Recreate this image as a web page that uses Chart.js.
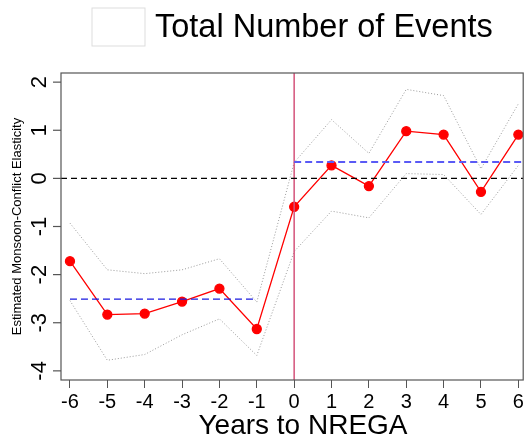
<!DOCTYPE html>
<html><head><meta charset="utf-8">
<script src="https://cdn.jsdelivr.net/npm/chart.js"></script>
<style>html,body{margin:0;background:#fff}#wrap{width:529px;height:443px}</style>
</head><body><div id="wrap"><canvas id="c"></canvas></div>
<script>
const years = [-6, -5, -4, -3, -2, -1, 0, 1, 2, 3, 4, 5, 6];
const estimate = [-1.72, -2.83, -2.81, -2.56, -2.29, -3.13, -0.59, 0.27, -0.16, 0.98, 0.91, -0.28, 0.91];
const upper = [-0.93, -1.9, -1.98, -1.9, -1.67, -2.57, 0.33, 1.22, 0.52, 1.85, 1.72, 0.2, 1.55];
const lower = [-2.54, -3.78, -3.66, -3.25, -2.92, -3.68, -1.52, -0.68, -0.82, 0.1, 0.08, -0.75, 0.27];
const preMean = -2.51, postMean = 0.34;
const yTicks = [2, 1, 0, -1, -2, -3, -4];
const X_MIN = -6.24, X_MAX = 6.13, Y_MIN = -4.19, Y_MAX = 2.19;

const pts = arr => years.map((x, i) => ({ x, y: arr[i] }));
const FONT = 'Liberation Sans, Arial, sans-serif';

const decor = {
  id: 'decor',
  afterDraw(chart) {
    const { ctx, chartArea: a, scales: { y } } = chart;
    ctx.save();
    ctx.strokeStyle = '#555'; ctx.lineWidth = 1.2;
    ctx.strokeRect(a.left, a.top, a.right - a.left, a.bottom - a.top);
    // y ticks, rotated labels
    ctx.fillStyle = '#000'; ctx.font = '22px ' + FONT;
    ctx.textAlign = 'center'; ctx.textBaseline = 'middle';
    yTicks.forEach(v => {
      const py = y.getPixelForValue(v);
      ctx.beginPath(); ctx.moveTo(a.left - 8, py); ctx.lineTo(a.left, py); ctx.stroke();
      ctx.save(); ctx.translate(40, py); ctx.rotate(-Math.PI / 2);
      ctx.fillText(String(v), 0, 0); ctx.restore();
    });
    ctx.save(); ctx.translate(17, (a.top + a.bottom) / 2); ctx.rotate(-Math.PI / 2);
    ctx.font = '13px ' + FONT; ctx.fillText('Estimated Monsoon-Conflict Elasticity', 0, 0); ctx.restore();
    // x title
    ctx.font = '28px ' + FONT;
    ctx.fillText('Years to NREGA', 303, 426);
    // legend
    ctx.strokeStyle = '#ddd'; ctx.lineWidth = 1;
    ctx.strokeRect(92, 8, 53, 38);
    ctx.font = '32.5px ' + FONT; ctx.textAlign = 'left';
    ctx.fillText('Total Number of Events', 155, 28);
    ctx.restore();
  }
};

new Chart(document.getElementById('c'), {
  type: 'scatter',
  data: {
    datasets: [
      { data: [{ x: X_MIN, y: 0 }, { x: X_MAX, y: 0 }], showLine: true, borderColor: '#000', borderWidth: 1.2, borderDash: [6, 4], pointRadius: 0 },
      { data: [{ x: -6, y: preMean }, { x: -1, y: preMean }], showLine: true, borderColor: '#1a1ae0', borderWidth: 1.3, borderDash: [7, 4], pointRadius: 0 },
      { data: [{ x: 0, y: postMean }, { x: X_MAX, y: postMean }], showLine: true, borderColor: '#5a5af5', borderWidth: 2, borderDash: [7, 4], pointRadius: 0 },
      { data: [{ x: 0, y: Y_MIN }, { x: 0, y: Y_MAX }], showLine: true, borderColor: '#d4537a', borderWidth: 1.5, pointRadius: 0 },
      { data: pts(upper), showLine: true, borderColor: '#999', borderWidth: 1, borderDash: [1, 2], pointRadius: 0 },
      { data: pts(lower), showLine: true, borderColor: '#999', borderWidth: 1, borderDash: [1, 2], pointRadius: 0 },
      { data: pts(estimate), showLine: true, borderColor: '#f00', borderWidth: 1.3, pointRadius: 4.5, pointBackgroundColor: '#f00', pointBorderColor: '#f00' }
    ]
  },
  options: {
    responsive: true, maintainAspectRatio: false, animation: false,
    layout: { padding: { top: 73, right: 2, left: 0, bottom: 0 } },
    plugins: { legend: { display: false }, tooltip: { enabled: false } },
    scales: {
      x: {
        type: 'linear', min: X_MIN, max: X_MAX,
        afterFit: s => { s.height = 63; },
        afterBuildTicks: s => { s.ticks = years.map(v => ({ value: v })); },
        grid: { drawOnChartArea: false, tickLength: 8, color: '#555' },
        border: { display: false },
        ticks: { color: '#000', font: { size: 20, family: FONT }, padding: 2, maxRotation: 0 }
      },
      y: {
        min: Y_MIN, max: Y_MAX,
        afterFit: s => { s.width = 61; },
        grid: { display: false }, border: { display: false },
        ticks: { display: false }
      }
    }
  },
  plugins: [decor]
});
</script></body></html>
